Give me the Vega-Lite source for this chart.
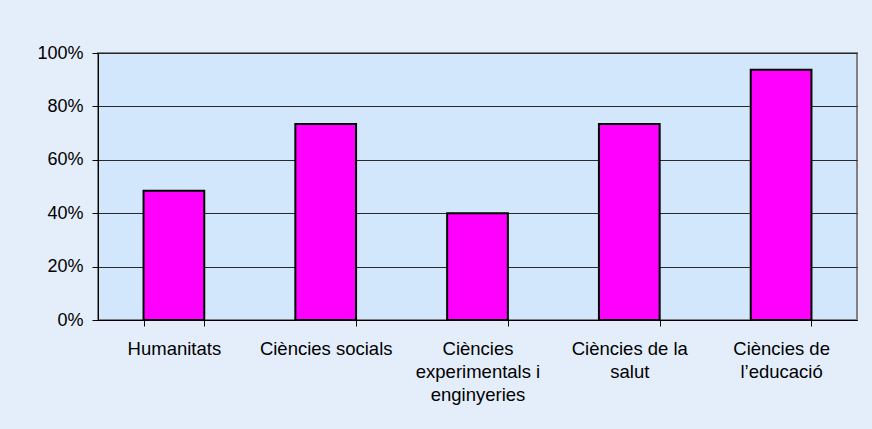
{
  "$schema": "https://vega.github.io/schema/vega-lite/v6.json",
  "width": 759,
  "height": 267,
  "autosize": {"type": "none"},
  "padding": {"left": 98, "top": 53, "right": 15, "bottom": 109},
  "background": "#e4eefb",
  "data": {
    "values": [
      {"area": "Humanitats", "share": 0.484},
      {"area": "Ciències socials", "share": 0.734},
      {"area": "Ciències experimentals i enginyeries", "share": 0.40},
      {"area": "Ciències de la salut", "share": 0.734},
      {"area": "Ciències de l’educació", "share": 0.937}
    ]
  },
  "mark": {"type": "bar", "fill": "#ff00ff", "stroke": "#000000", "strokeWidth": 2},
  "encoding": {
    "x": {
      "field": "area",
      "type": "nominal",
      "sort": null,
      "scale": {"paddingInner": 0.6, "paddingOuter": 0.3},
      "axis": {
        "title": null,
        "labelAngle": 0,
        "labelFont": "Liberation Sans",
        "labelFontSize": 18.5,
        "labelColor": "#000000",
        "labelPadding": 13,
        "labelLineHeight": 23,
        "labelLimit": 200,
        "domainColor": "#000000",
        "tickColor": "#000000",
        "tickSize": 6,
        "tickBand": "extent",
        "grid": false,
        "labelExpr": "datum.label == 'Ciències experimentals i enginyeries' ? ['Ciències', 'experimentals i', 'enginyeries'] : datum.label == 'Ciències de la salut' ? ['Ciències de la', 'salut'] : datum.label == 'Ciències de l’educació' ? ['Ciències de', 'l’educació'] : datum.label"
      }
    },
    "y": {
      "field": "share",
      "type": "quantitative",
      "scale": {"domain": [0, 1], "nice": false},
      "axis": {
        "title": null,
        "format": ".0%",
        "values": [0, 0.2, 0.4, 0.6, 0.8, 1],
        "labelFont": "Liberation Sans",
        "labelFontSize": 18,
        "labelColor": "#000000",
        "labelPadding": 9,
        "domainColor": "#000000",
        "tickColor": "#000000",
        "tickSize": 6,
        "gridColor": "#2a2a2a",
        "gridWidth": 1
      }
    }
  },
  "config": {
    "view": {"fill": "#d3e7fc", "stroke": "#808080", "strokeWidth": 2}
  }
}
